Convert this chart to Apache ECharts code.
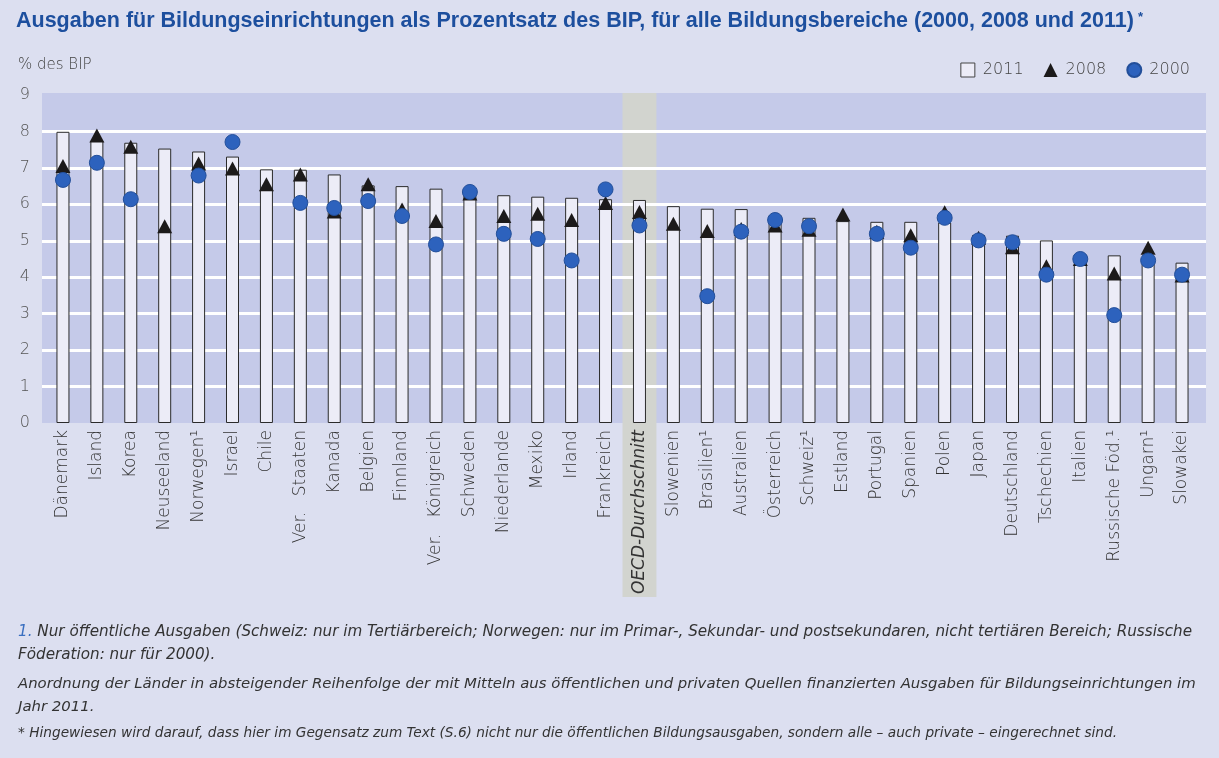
<!DOCTYPE html>
<html>
<head>
<meta charset="utf-8">
<script src="https://cdn.jsdelivr.net/npm/echarts@6/dist/echarts.min.js"></script>
<style>
  html, body { margin: 0; padding: 0; background: #dcdff0; }
  #chart { width: 1219px; height: 758px; }
</style>
</head>
<body>
<div id="chart"></div>
<script>
var categories = ['Dänemark', 'Island', 'Korea', 'Neuseeland', 'Norwegen¹', 'Israel', 'Chile', 'Ver. Staaten',
    'Kanada', 'Belgien', 'Finnland', 'Ver. Königreich', 'Schweden', 'Niederlande', 'Mexiko', 'Irland',
    'Frankreich', 'OECD-Durchschnitt', 'Slowenien', 'Brasilien¹', 'Australien', 'Österreich', 'Schweiz¹',
    'Estland', 'Portugal', 'Spanien', 'Polen', 'Japan', 'Deutschland', 'Tschechien', 'Italien',
    'Russische Föd.¹', 'Ungarn¹', 'Slowakei'];

var v2011 = [7.99, 7.74, 7.69, 7.53, 7.45, 7.31, 6.96, 6.95, 6.82, 6.52, 6.5, 6.43, 6.3, 6.25, 6.21, 6.18,
    6.14, 6.12, 5.95, 5.88, 5.87, 5.7, 5.63, 5.54, 5.52, 5.52, 5.5, 5.16, 5.14, 5.01, 4.62, 4.6, 4.5, 4.4];

var v2008 = [7.05, 7.89, 7.58, 5.4, 7.12, 6.98, 6.55, 6.82, 5.8, 6.55, 5.86, 5.54, 6.3, 5.68, 5.74, 5.57,
    6.04, 5.79, 5.47, 5.27, 5.32, 5.42, 5.3, 5.72, 5.25, 5.15, 5.78, 5.08, 4.82, 4.3, 4.5, 4.1, 4.81, 4.05];

var v2000 = [6.67, 7.14, 6.14, null, 6.79, 7.71, null, 6.04, 5.9, 6.09, 5.68, 4.9, 6.34, 5.19, 5.05, 4.46,
    6.41, 5.42, null, 3.48, 5.25, 5.57, 5.4, null, 5.19, 4.81, 5.63, 5.01, 4.96, 4.07, 4.5, 2.96, 4.46, 4.07];

var yTicks = [0, 1, 2, 3, 4, 5, 6, 7, 8, 9];
var oecdName = 'OECD-Durchschnitt';

var notes = [
    '{b|1.} Nur öffentliche Ausgaben (Schweiz: nur im Tertiärbereich; Norwegen: nur im Primar-, Sekundar- und postsekundaren, nicht tertiären Bereich; Russische',
    'Föderation: nur für 2000).',
    'Anordnung der Länder in absteigender Reihenfolge der mit Mitteln aus öffentlichen und privaten Quellen finanzierten Ausgaben für Bildungseinrichtungen im',
    'Jahr 2011.',
    '* Hingewiesen wird darauf, dass hier im Gegensatz zum Text (S.6) nicht nur die öffentlichen Bildungsausgaben, sondern alle – auch private – eingerechnet sind.'
];
var noteY = [634, 657, 686, 709, 735];
var noteSize = [15.2, 15.2, 14.9, 14.9, 13.7];

var labelFont = 'DejaVu Sans';
var chart = echarts.init(document.getElementById('chart'));

// panel + grid lines live in grid 0, the bars in grid 1 (a bit narrower, like the original)
var panel = { left: 42, right: 13, top: 95, bottom: 335 };
var plot = { left: 46, right: 20, top: 95, bottom: 335 };

var option = {
    backgroundColor: '#dcdff0',
    animation: false,
    title: {
        text: '{t|Ausgaben für Bildungseinrichtungen als Prozentsatz des BIP, für alle Bildungsbereiche (2000, 2008 und 2011)}{s|*}',
        left: 11,
        top: 5,
        textStyle: {
            rich: {
                t: { fontFamily: 'Liberation Sans', fontWeight: 'bold', fontSize: 21.5, color: '#1d4f9e' },
                s: { fontFamily: 'Liberation Sans', fontWeight: 'bold', fontSize: 13, color: '#1d4f9e', padding: [0, 0, 8, 4] }
            }
        }
    },
    legend: {
        right: 24,
        top: 57,
        itemWidth: 14,
        itemHeight: 14,
        itemGap: 20,
        textStyle: { fontFamily: labelFont, fontWeight: 300, fontSize: 16, color: '#444', padding: [0, 0, 0, 3] },
        data: [
            { name: '2011', icon: 'rect', itemStyle: { color: '#ececf7', borderColor: '#444', borderWidth: 1 } },
            { name: '2008', icon: 'triangle' },
            { name: '2000', icon: 'circle' }
        ]
    },
    graphic: [],
    grid: [
        Object.assign({}, panel),
        Object.assign({}, plot)
    ],
    xAxis: [
        { type: 'value', gridIndex: 0, show: false, min: 0, max: 1 },
        {
            type: 'category',
            gridIndex: 1,
            data: categories,
            axisLine: { show: false },
            axisTick: { show: false },
            axisLabel: {
                interval: 0,
                rotate: 90,
                margin: 7,
                fontFamily: labelFont,
                fontWeight: 300,
                fontSize: 17,
                color: '#333',
                formatter: function (v) {
                    if (v === oecdName) return '{it|' + v + '}';
                    // the original sets "Ver." apart with a wide gap
                    if (v.indexOf('Ver. ') === 0) return '{v|Ver.}' + v.slice(4);
                    return v;
                },
                rich: {
                    it: { fontFamily: labelFont, fontWeight: 300, fontStyle: 'italic', fontSize: 17, color: '#333' },
                    v: { fontFamily: labelFont, fontWeight: 300, fontSize: 17, color: '#333', padding: [0, 10, 0, 0] }
                }
            }
        }
    ],
    yAxis: [
        {
            type: 'value',
            gridIndex: 0,
            min: yTicks[0],
            max: yTicks[yTicks.length - 1],
            interval: 1,
            axisLine: { show: false },
            axisTick: { show: false },
            axisLabel: { margin: 12, fontFamily: labelFont, fontWeight: 300, fontSize: 16, color: '#555' },
            splitLine: {
                lineStyle: {
                    width: 3,
                    color: yTicks.map(function (t) {
                        return (t === 0 || t === 9) ? 'rgba(0,0,0,0)' : '#ffffff';
                    })
                }
            }
        },
        { type: 'value', gridIndex: 1, min: 0, max: 9, show: false }
    ],
    series: [
        {
            name: '2011',
            type: 'bar',
            xAxisIndex: 1,
            yAxisIndex: 1,
            data: v2011,
            barWidth: 13,
            itemStyle: { color: '#ececf7', borderColor: '#2b2b2b', borderWidth: 1 },
            z: 2
        },
        {
            name: '2008',
            type: 'scatter',
            xAxisIndex: 1,
            yAxisIndex: 1,
            data: v2008,
            symbol: 'triangle',
            symbolSize: [15, 14],
            itemStyle: { color: '#1c1a1a', opacity: 1 },
            z: 3
        },
        {
            name: '2000',
            type: 'scatter',
            xAxisIndex: 1,
            yAxisIndex: 1,
            data: v2000,
            symbol: 'circle',
            symbolSize: 15,
            itemStyle: { color: '#2d62bd', borderColor: '#234f9a', borderWidth: 1, opacity: 1 },
            z: 4
        }
    ]
};

chart.setOption(option);

// background panel and the grey band behind the OECD average
var W = 1219;
var oi = categories.indexOf(oecdName);
var cx = chart.convertToPixel({ xAxisIndex: 1 }, oecdName);
var bw = chart.convertToPixel({ xAxisIndex: 1 }, categories[oi + 1]) - cx;
var yTop = chart.convertToPixel({ yAxisIndex: 0 }, 9) - 2;
var yBot = chart.convertToPixel({ yAxisIndex: 0 }, 0);

var graphics = [
    {
        type: 'rect', z: -10, silent: true,
        shape: { x: panel.left, y: yTop, width: W - panel.left - panel.right, height: yBot - yTop },
        style: { fill: '#c5cae9' }
    },
    {
        type: 'rect', z: -9, silent: true,
        shape: { x: cx - bw / 2, y: yTop, width: bw, height: 597 - yTop },
        style: { fill: '#d2d4cf' }
    },
    {
        type: 'text', left: 18, top: 58,
        style: { text: '% des BIP', font: '300 15px "DejaVu Sans"', fill: '#444' }
    }
];
notes.forEach(function (line, i) {
    var f = 'italic ' + noteSize[i] + 'px "DejaVu Sans"';
    graphics.push({
        type: 'text', left: 18, top: noteY[i] - 9,
        style: {
            text: line,
            font: f,
            fill: '#333',
            rich: { b: { fill: '#3a6fc0', font: f } }
        }
    });
});

chart.setOption({ graphic: graphics });
</script>
</body>
</html>
